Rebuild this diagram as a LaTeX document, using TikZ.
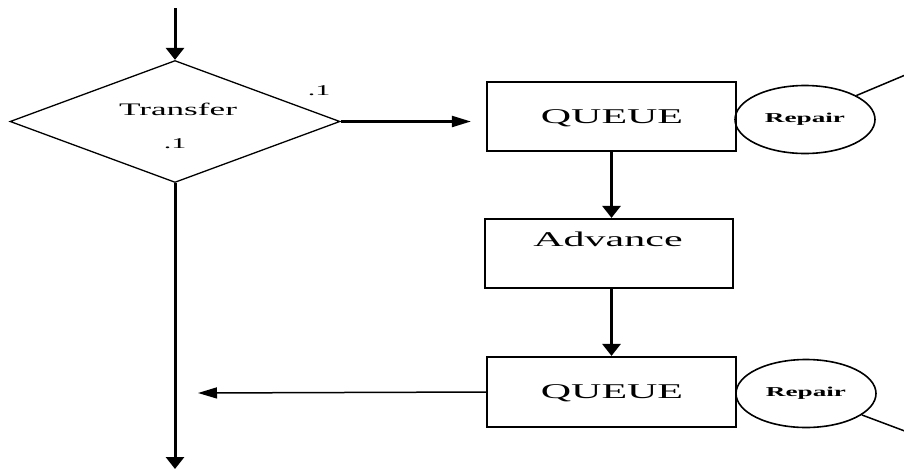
\documentclass[tikz,border=0pt]{standalone}
\usepackage{fontspec}
\setmainfont{Liberation Serif}
\usetikzlibrary{shapes.geometric,arrows.meta}

% text set twice as wide as it is tall
\newcommand{\wtext}[1]{\scalebox{2}[1]{#1}}

\tikzset{
  procbox/.style={draw, line width=2.2pt, inner sep=0pt},
  repairnode/.style={draw, ellipse, line width=1.6pt, inner sep=0pt,
    minimum width=140pt, minimum height=68pt,
    font=\fontsize{13.6}{15}\selectfont\bfseries},
  vflow/.style={line width=3pt, -{Triangle[length=12pt,width=18pt]}},
  hflow/.style={line width=2.2pt, -{Triangle[length=19pt,width=11pt]}},
  hflowthin/.style={line width=1.5pt, -{Triangle[length=19pt,width=11pt]}},
  tail/.style={line width=1.5pt},
  lbl/.style={inner sep=0pt, font=\fontsize{15}{17}\selectfont},
}

\begin{document}
\begin{tikzpicture}[x=1pt, y=-1pt]
  \useasboundingbox (0,0) rectangle (904,469);
  \clip (0,0) rectangle (904,469);

  % decision
  \node[draw, diamond, line width=1.3pt, inner sep=0pt, aspect=2.7,
        minimum width=330pt, minimum height=122pt] (dec) at (175,121.5) {};
  \node[inner sep=0pt, font=\fontsize{17.6}{19}\selectfont] (dectext) at (178,109) {\wtext{Transfer}};
  \node[lbl] (pdown) at (175,144) {\wtext{.1}};
  \node[lbl] (pright) at (319,91) {\wtext{.1}};

  % blocks
  \node[procbox, minimum width=249pt, minimum height=69pt] (q1) at (611.5,116.5) {};
  \node[inner sep=0pt, font=\fontsize{21}{23}\selectfont] (q1text) at (612,118) {\wtext{QUEUE}};
  \node[procbox, minimum width=248pt, minimum height=69pt] (adv) at (609,253.5) {};
  \node[inner sep=0pt, font=\fontsize{21}{23}\selectfont] (advtext) at (608,239) {\wtext{Advance}};
  \node[procbox, minimum width=249pt, minimum height=70pt] (q2) at (611.5,392) {};
  \node[inner sep=0pt, font=\fontsize{21}{23}\selectfont] (q2text) at (612,393) {\wtext{QUEUE}};

  % facilities
  \node[repairnode] (r1) at (805,119.5) {\wtext{Repair}};
  \node[repairnode] (r2) at (806,393.5) {\wtext{Repair}};
  \coordinate (r1end) at (910,73);
  \coordinate (r2end) at (910,433);
  \draw[tail] (r1.25) -- (r1end);
  \draw[tail] (r2.-21) -- (r2end);

  % flow
  \coordinate (entry) at (175,8);
  \coordinate (exit) at (175,469);
  \coordinate (ret) at (198,393);
  \draw[vflow] (entry) -- (dec.north);
  \draw[vflow] (dec.south) -- (exit);
  \draw[hflow, shorten >=15pt] (dec.east) -- (dec.east -| q1.west);
  \draw[vflow] (q1.south) -- (q1.south |- adv.north);
  \draw[vflow] (q1.south |- adv.south) -- (q1.south |- q2.north);
  \draw[hflowthin] (q2.west) -- (ret);
\end{tikzpicture}
\end{document}
